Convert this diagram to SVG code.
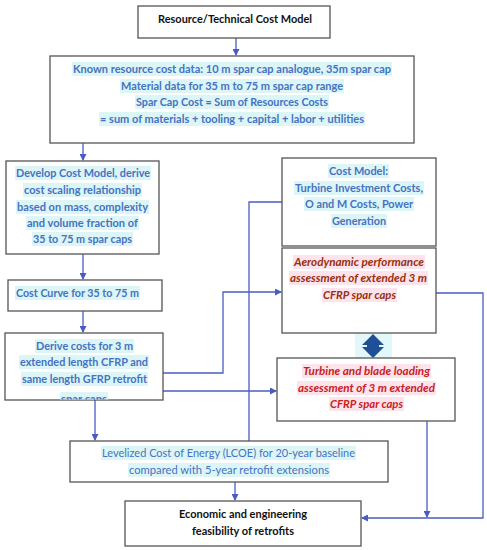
<svg xmlns="http://www.w3.org/2000/svg" width="487" height="550" viewBox="0 0 487 550">
<style>
.box{fill:#fff;stroke:#555;stroke-width:1.3}
.t{font-family:Lato,"Liberation Sans",sans-serif;font-size:11.5px;font-weight:bold;text-anchor:middle}
.blue{fill:#4672c2}
.blk{fill:#111}
.aero{fill:#96300f;font-style:italic}
.turb{fill:#c8201e;font-style:italic}
.hc{fill:#dcf5f6}
.hp{fill:#fde3ec}
.c{fill:none;stroke:#4a5cc4;stroke-width:1.3}
.reg{font-weight:normal}
</style>
<defs>
<marker id="ah" markerWidth="7" markerHeight="7" refX="6" refY="3.5" orient="auto" markerUnits="userSpaceOnUse">
<path d="M0,0 L7,3.5 L0,7 Z" fill="#4a5cc4"/>
</marker>
<clipPath id="clip5"><rect x="5" y="333" width="158" height="66.5"/></clipPath>
</defs>
<rect width="487" height="550" fill="#fff"/>

<g id="connectors">
<path class="c" d="M236,38 V55" marker-end="url(#ah)"/>
<path class="c" d="M83,143 V160" marker-end="url(#ah)"/>
<path class="c" d="M83,254 V279" marker-end="url(#ah)"/>
<path class="c" d="M83,311 V332" marker-end="url(#ah)"/>
<path class="c" d="M95,400 V440" marker-end="url(#ah)"/>
<path class="c" d="M235,482 V500" marker-end="url(#ah)"/>
<path class="c" d="M163,373 H223 V292 H281" marker-end="url(#ah)"/>
<path class="c" d="M163,391 H276" marker-end="url(#ah)"/>
<path class="c" d="M282,202 H249 V441"/>
<path class="c" d="M436,293 H483 V518 H362" marker-end="url(#ah)"/>
<path class="c" d="M427,421 V517" marker-end="url(#ah)"/>
<g id="double-arrow">
<rect x="355" y="333" width="37" height="27" fill="#e2f7f9"/>
<path d="M373,334 L384,345 L379,345 L379,347 L384,347 L373,358 L362,347 L367,347 L367,345 L362,345 Z" fill="#1f4f96"/>
</g>
</g>

<g id="n1">
<rect class="box" x="138" y="6" width="192" height="32"/>
<text class="t blk" x="235" y="23" textLength="154" lengthAdjust="spacingAndGlyphs">Resource/Technical Cost Model</text>
</g>

<g id="n2">
<rect class="box" x="50" y="56" width="364" height="87"/>
<rect class="hc" x="72" y="62" width="320" height="14"/>
<rect class="hc" x="120" y="79" width="224" height="14"/>
<rect class="hc" x="135" y="95" width="194" height="14"/>
<rect class="hc" x="99" y="112" width="266" height="14"/>
<text class="t blue" x="232" y="73" textLength="318" lengthAdjust="spacingAndGlyphs">Known resource cost data: 10 m spar cap analogue, 35m spar cap</text>
<text class="t blue" x="232" y="90" textLength="222" lengthAdjust="spacingAndGlyphs">Material data for 35 m to 75 m spar cap range</text>
<text class="t blue" x="232" y="106" textLength="192" lengthAdjust="spacingAndGlyphs">Spar Cap Cost = Sum of Resources Costs</text>
<text class="t blue" x="232" y="123" textLength="264" lengthAdjust="spacingAndGlyphs">= sum of materials + tooling + capital + labor + utilities</text>
</g>

<g id="n3">
<rect class="box" x="6" y="161" width="153" height="93"/>
<rect class="hc" x="15" y="166" width="136" height="14"/>
<rect class="hc" x="23" y="183" width="119" height="14"/>
<rect class="hc" x="16" y="200" width="133" height="14"/>
<rect class="hc" x="26" y="216" width="113" height="14"/>
<rect class="hc" x="32" y="232" width="101" height="14"/>
<text class="t blue" x="83" y="177" textLength="134" lengthAdjust="spacingAndGlyphs">Develop Cost Model, derive</text>
<text class="t blue" x="82.5" y="194" textLength="117" lengthAdjust="spacingAndGlyphs">cost scaling relationship</text>
<text class="t blue" x="82.5" y="211" textLength="131" lengthAdjust="spacingAndGlyphs">based on mass, complexity</text>
<text class="t blue" x="82.5" y="227" textLength="111" lengthAdjust="spacingAndGlyphs">and volume fraction of</text>
<text class="t blue" x="82.5" y="243" textLength="99" lengthAdjust="spacingAndGlyphs">35 to 75 m spar caps</text>
</g>

<g id="n4">
<rect class="box" x="8" y="280" width="154" height="31"/>
<rect class="hc" x="15" y="286" width="125" height="14"/>
<text class="t blue" x="16" y="297" style="text-anchor:start" textLength="123" lengthAdjust="spacingAndGlyphs">Cost Curve for 35 to 75 m</text>
</g>

<g id="n5">
<rect class="box" x="5" y="333" width="158" height="67"/>
<rect class="hc" x="35" y="339" width="99" height="14"/>
<rect class="hc" x="19" y="355" width="130" height="14"/>
<rect class="hc" x="21" y="372" width="127" height="14"/>
<g clip-path="url(#clip5)">
<rect class="hc" x="60" y="392" width="48" height="12"/>
<text class="t blue" x="84" y="403" textLength="46" lengthAdjust="spacingAndGlyphs">spar caps</text>
</g>
<text class="t blue" x="84.5" y="350" textLength="97" lengthAdjust="spacingAndGlyphs">Derive costs for 3 m</text>
<text class="t blue" x="84" y="366" textLength="128" lengthAdjust="spacingAndGlyphs">extended length CFRP and</text>
<text class="t blue" x="84.5" y="383" textLength="125" lengthAdjust="spacingAndGlyphs">same length GFRP retrofit</text>
</g>

<g id="n6">
<rect class="box" x="282" y="158" width="154" height="88"/>
<rect class="hc" x="328" y="164" width="61" height="14"/>
<rect class="hc" x="294" y="181" width="130" height="14"/>
<rect class="hc" x="304" y="197" width="110" height="14"/>
<rect class="hc" x="331" y="214" width="56" height="14"/>
<text class="t blue" x="358.5" y="175" textLength="59" lengthAdjust="spacingAndGlyphs">Cost Model:</text>
<text class="t blue" x="359" y="192" textLength="128" lengthAdjust="spacingAndGlyphs">Turbine Investment Costs,</text>
<text class="t blue" x="359" y="208" textLength="108" lengthAdjust="spacingAndGlyphs">O and M Costs, Power</text>
<text class="t blue" x="359" y="225" textLength="54" lengthAdjust="spacingAndGlyphs">Generation</text>
</g>

<g id="n7">
<rect class="box" x="282" y="248" width="154" height="85"/>
<rect class="hp" x="293" y="255" width="132" height="14"/>
<rect class="hp" x="289" y="271" width="139" height="14"/>
<rect class="hp" x="322" y="288" width="75" height="14"/>
<text class="t aero" x="359" y="266" textLength="130" lengthAdjust="spacingAndGlyphs">Aerodynamic performance</text>
<text class="t aero" x="358.5" y="282" textLength="137" lengthAdjust="spacingAndGlyphs">assessment of extended 3 m</text>
<text class="t aero" x="359.5" y="299" textLength="73" lengthAdjust="spacingAndGlyphs">CFRP spar caps</text>
</g>

<g id="n8">
<rect class="box" x="277" y="358" width="178" height="63"/>
<rect class="hp" x="302" y="364" width="129" height="14"/>
<rect class="hp" x="297" y="381" width="139" height="14"/>
<rect class="hp" x="329" y="397" width="75" height="14"/>
<text class="t turb" x="366.5" y="375" textLength="127" lengthAdjust="spacingAndGlyphs">Turbine and blade loading</text>
<text class="t turb" x="366.5" y="392" textLength="137" lengthAdjust="spacingAndGlyphs">assessment of 3 m extended</text>
<text class="t turb" x="366.5" y="408" textLength="73" lengthAdjust="spacingAndGlyphs">CFRP spar caps</text>
</g>

<g id="n9">
<rect class="box" x="70" y="441" width="318" height="41"/>
<rect class="hc" x="101" y="446" width="255" height="14"/>
<rect class="hc" x="128" y="463" width="202" height="14"/>
<text class="t blue reg" x="228.5" y="457" textLength="253" lengthAdjust="spacingAndGlyphs">Levelized Cost of Energy (LCOE) for 20-year baseline</text>
<text class="t blue reg" x="229" y="474" textLength="200" lengthAdjust="spacingAndGlyphs">compared with 5-year retrofit extensions</text>
</g>

<g id="n10">
<rect class="box" x="125" y="501" width="236" height="45"/>
<text class="t blk" x="243" y="518" textLength="128" lengthAdjust="spacingAndGlyphs">Economic and engineering</text>
<text class="t blk" x="243" y="535" textLength="102" lengthAdjust="spacingAndGlyphs">feasibility of retrofits</text>
</g>
</svg>
